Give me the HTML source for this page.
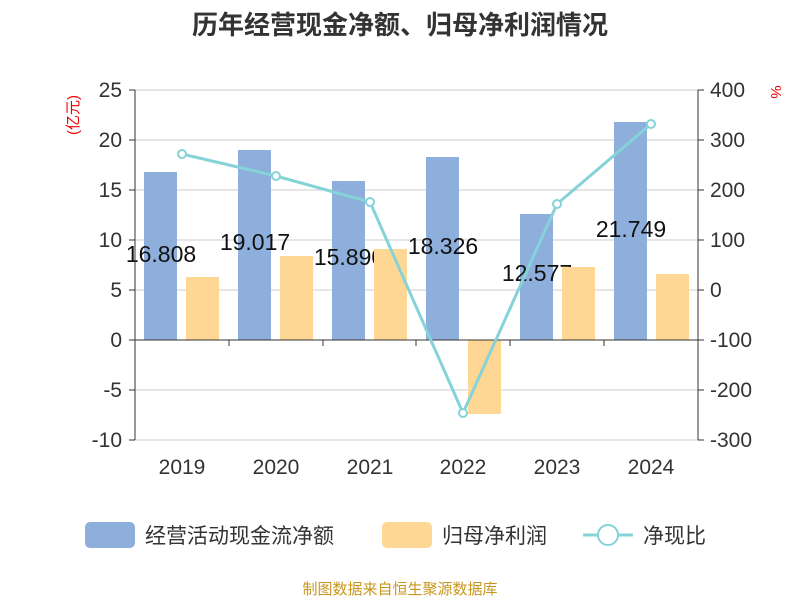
<!DOCTYPE html>
<html><head><meta charset="utf-8"><style>
body{margin:0;background:#fff;}
svg text{font-family:"Liberation Sans","Noto Sans CJK SC",sans-serif;}
</style></head><body>
<svg width="800" height="600" xmlns="http://www.w3.org/2000/svg">
<rect width="800" height="600" fill="#fff"/>
<text x="400" y="34" text-anchor="middle" font-size="26" font-weight="bold" fill="#333">历年经营现金净额、归母净利润情况</text>
<g stroke="#ccc" stroke-width="1">
<line x1="135" y1="90" x2="698" y2="90"/><line x1="135" y1="140" x2="698" y2="140"/>
<line x1="135" y1="190" x2="698" y2="190"/><line x1="135" y1="240" x2="698" y2="240"/>
<line x1="135" y1="290" x2="698" y2="290"/><line x1="135" y1="390" x2="698" y2="390"/>
<line x1="135" y1="440" x2="698" y2="440"/>
</g>
<g fill="#8eaedb">
<rect x="144" y="172" width="33" height="168"/>
<rect x="238" y="150" width="33" height="190"/>
<rect x="332" y="181" width="33" height="159"/>
<rect x="426" y="157" width="33" height="183"/>
<rect x="520" y="214" width="33" height="126"/>
<rect x="614" y="122" width="33" height="218"/>
</g>
<g font-size="23" fill="#111" text-anchor="middle">
<text x="161" y="262">16.808</text>
<text x="255" y="250">19.017</text>
<text x="349" y="265">15.890</text>
<text x="443" y="254">18.326</text>
<text x="537" y="281">12.577</text>
<text x="631" y="237">21.749</text>
</g>
<g fill="#ffd795">
<rect x="186" y="277" width="33" height="63"/>
<rect x="280" y="256" width="33" height="84"/>
<rect x="374" y="249" width="33" height="91"/>
<rect x="468" y="340" width="33" height="74"/>
<rect x="562" y="267" width="33" height="73"/>
<rect x="656" y="274" width="33" height="66"/>
</g>
<g stroke="#333" stroke-width="1">
<line x1="135" y1="340" x2="698" y2="340"/>
<line x1="135" y1="90" x2="135" y2="440"/>
<line x1="698" y1="90" x2="698" y2="440"/>
<line x1="229" y1="340" x2="229" y2="346"/><line x1="323" y1="340" x2="323" y2="346"/>
<line x1="416" y1="340" x2="416" y2="346"/><line x1="510" y1="340" x2="510" y2="346"/>
<line x1="604" y1="340" x2="604" y2="346"/>
<g>
<line x1="129" y1="90" x2="135" y2="90"/><line x1="129" y1="140" x2="135" y2="140"/><line x1="129" y1="190" x2="135" y2="190"/><line x1="129" y1="240" x2="135" y2="240"/><line x1="129" y1="290" x2="135" y2="290"/><line x1="129" y1="340" x2="135" y2="340"/><line x1="129" y1="390" x2="135" y2="390"/><line x1="129" y1="440" x2="135" y2="440"/>
<line x1="698" y1="90" x2="704" y2="90"/><line x1="698" y1="140" x2="704" y2="140"/><line x1="698" y1="190" x2="704" y2="190"/><line x1="698" y1="240" x2="704" y2="240"/><line x1="698" y1="290" x2="704" y2="290"/><line x1="698" y1="340" x2="704" y2="340"/><line x1="698" y1="390" x2="704" y2="390"/><line x1="698" y1="440" x2="704" y2="440"/>
</g>
</g>
<polyline points="182,154 276,176 370,202 463,413 557,204 651,124" fill="none" stroke="#85d3d8" stroke-width="3"/>
<g fill="#fff" stroke="#85d3d8" stroke-width="2">
<circle cx="182" cy="154" r="4"/><circle cx="276" cy="176" r="4"/><circle cx="370" cy="202" r="4"/><circle cx="463" cy="413" r="4"/><circle cx="557" cy="204" r="4"/><circle cx="651" cy="124" r="4"/>
</g>
<g font-size="21" fill="#333" text-anchor="end">
<text x="122" y="97">25</text><text x="122" y="147">20</text><text x="122" y="197">15</text><text x="122" y="247">10</text><text x="122" y="297">5</text><text x="122" y="347">0</text><text x="122" y="397">-5</text><text x="122" y="447">-10</text>
</g>
<g font-size="21" fill="#333" text-anchor="start">
<text x="710" y="97">400</text><text x="710" y="147">300</text><text x="710" y="197">200</text><text x="710" y="247">100</text><text x="710" y="297">0</text><text x="710" y="347">-100</text><text x="710" y="397">-200</text><text x="710" y="447">-300</text>
</g>
<g font-size="21" fill="#333" text-anchor="middle">
<text x="182" y="474">2019</text><text x="276" y="474">2020</text><text x="370" y="474">2021</text><text x="463" y="474">2022</text><text x="557" y="474">2023</text><text x="651" y="474">2024</text>
</g>
<text transform="translate(78,115) rotate(-90)" font-size="15" fill="#e00" text-anchor="middle">(亿元)</text>
<text transform="translate(771,92) rotate(90)" font-size="15" fill="#e00" text-anchor="middle">%</text>
<rect x="85" y="522" width="50" height="26" rx="5" fill="#8eaedb"/>
<text x="145" y="543" font-size="21" fill="#333">经营活动现金流净额</text>
<rect x="382" y="522" width="50" height="26" rx="5" fill="#ffd795"/>
<text x="442" y="543" font-size="21" fill="#333">归母净利润</text>
<line x1="583" y1="535" x2="633" y2="535" stroke="#85d3d8" stroke-width="3"/>
<circle cx="608" cy="535" r="10" fill="#fff" stroke="#85d3d8" stroke-width="2"/>
<text x="643" y="543" font-size="21" fill="#333">净现比</text>
<text x="400" y="594" text-anchor="middle" font-size="15" fill="#c8961e">制图数据来自恒生聚源数据库</text>
</svg>
</body></html>
